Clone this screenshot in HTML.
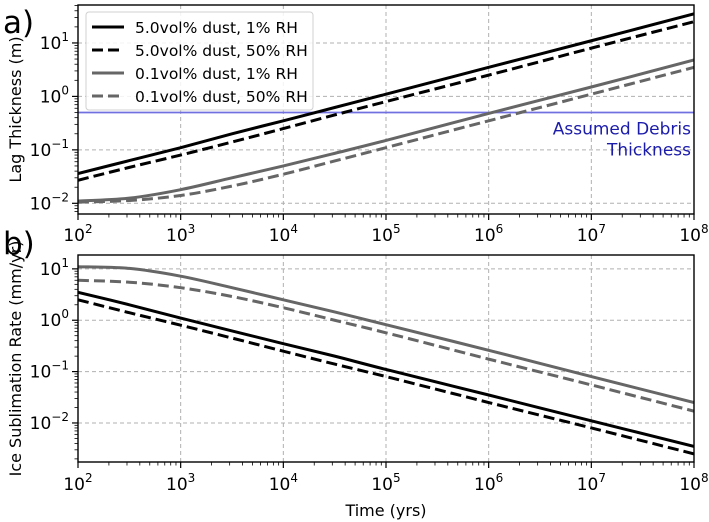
<!DOCTYPE html>
<html><head><meta charset="utf-8"><style>
body{margin:0;background:#fff;}
svg{display:block;font-family:"DejaVu Sans","Liberation Sans",sans-serif;}
</style></head><body>
<svg id="fig" width="709" height="522" viewBox="0 0 709 522"></svg>
<script>
const years = [2, 2.5, 3, 3.5, 4, 4.5, 5, 6, 7, 8];
const lag5dry = [0.036, 0.063, 0.11, 0.2, 0.35, 0.62, 1.1, 3.5, 11, 35];
const lag5wet = [0.027, 0.047, 0.08, 0.14, 0.25, 0.45, 0.8, 2.5, 8, 25];
const lag01dry = [0.011, 0.0125, 0.018, 0.03, 0.05, 0.086, 0.15, 0.48, 1.5, 4.8];
const lag01wet = [0.0105, 0.0113, 0.014, 0.021, 0.035, 0.062, 0.11, 0.35, 1.1, 3.5];
const sub5dry = [3.5, 2.0, 1.1, 0.62, 0.35, 0.2, 0.11, 0.035, 0.011, 0.0035];
const sub5wet = [2.5, 1.4, 0.8, 0.45, 0.25, 0.14, 0.08, 0.025, 0.008, 0.0025];
const sub01dry = [11, 10.2, 7.2, 4.3, 2.5, 1.45, 0.82, 0.26, 0.08, 0.025];
const sub01wet = [6, 5.5, 4.3, 2.9, 1.75, 1.0, 0.57, 0.175, 0.055, 0.017];
const debrisThickness = 0.5;
const xTickExp = [2, 3, 4, 5, 6, 7, 8];
const yTickExp = [-2, -1, 0, 1];
const legendLabels = ["5.0vol% dust, 1% RH", "5.0vol% dust, 50% RH", "0.1vol% dust, 1% RH", "0.1vol% dust, 50% RH"];

const NS = "http://www.w3.org/2000/svg";
const svg = document.getElementById('fig');
function el(tag, attrs, parent, text){
  const e = document.createElementNS(NS, tag);
  for (const k in attrs) e.setAttribute(k, attrs[k]);
  if (text !== undefined) e.textContent = text;
  (parent || svg).appendChild(e);
  return e;
}
const X0 = 78, X1 = 694;
function xs(e){ return X0 + (e - 2) / 6 * (X1 - X0); }
function makeY(top, bot, lmax, lmin){ return v => top + (lmax - Math.log10(v)) / (lmax - lmin) * (bot - top); }

const panels = [
  {name:'lag-thickness-panel', top:5, bot:214, lmax:1.71, lmin:-2.2, series:[lag5dry, lag5wet, lag01dry, lag01wet], ylabel:'Lag Thickness (m)', letter:'a)', ly:33, xtickY:241},
  {name:'sublimation-panel', top:255, bot:462, lmax:1.27, lmin:-2.76, series:[sub5dry, sub5wet, sub01dry, sub01wet], ylabel:'Ice Sublimation Rate (mm/yr)', letter:'b)', ly:254, xtickY:490}
];
const styles = [
  {c:'#000', d:''}, {c:'#000', d:'11,5'}, {c:'#666', d:''}, {c:'#666', d:'11,5'}
];
const seriesNames = ['series-5pct-1rh','series-5pct-50rh','series-01pct-1rh','series-01pct-50rh'];

function smoothPath(pts){
  let d = `M${pts[0][0]},${pts[0][1]}`;
  for (let i = 0; i < pts.length - 1; i++){
    const p0 = pts[Math.max(0,i-1)], p1 = pts[i], p2 = pts[i+1], p3 = pts[Math.min(pts.length-1,i+2)];
    const c1 = [p1[0] + (p2[0]-p0[0])/6, p1[1] + (p2[1]-p0[1])/6];
    const c2 = [p2[0] - (p3[0]-p1[0])/6, p2[1] - (p3[1]-p1[1])/6];
    d += ` C${c1[0]},${c1[1]} ${c2[0]},${c2[1]} ${p2[0]},${p2[1]}`;
  }
  return d;
}

panels.forEach(p => {
  const ys = makeY(p.top, p.bot, p.lmax, p.lmin);
  const g = el('g', {});
  
  
  xTickExp.forEach(e => {
    const ln = el('line', {x1:xs(e), x2:xs(e), y1:p.top, y2:p.bot, stroke:'#b0b0b0', 'stroke-width':1, 'stroke-dasharray':'4,3'}, g);
    
    
  });
  yTickExp.forEach(e => {
    const y = ys(Math.pow(10, e));
    const ln = el('line', {x1:X0, x2:X1, y1:y, y2:y, stroke:'#b0b0b0', 'stroke-width':1, 'stroke-dasharray':'4,3'}, g);
    
    
  });
  for (let e = 2; e <= 8; e++){
    const x = xs(e);
    const t = el('line', {x1:x, x2:x, y1:p.bot, y2:p.bot+6, stroke:'#000', 'stroke-width':1.2}, g);
    
    
    const lab = el('text', {x:x, y:p.xtickY, 'text-anchor':'middle', 'font-size':17}, g);
    
    
    lab.innerHTML = `10<tspan dy="-8" font-size="12">${e}</tspan>`;
    if (e < 8) for (let m = 2; m <= 9; m++){
      const xm = xs(e + Math.log10(m));
      const mt = el('line', {x1:xm, x2:xm, y1:p.bot, y2:p.bot+3.5, stroke:'#000', 'stroke-width':0.8}, g);
      
      
    }
  }
  for (let e = Math.floor(p.lmin); e <= Math.ceil(p.lmax); e++){
    for (let m = 1; m <= 9; m++){
      const lv = e + Math.log10(m);
      if (lv < p.lmin || lv > p.lmax) continue;
      const y = ys(Math.pow(10, lv));
      const len = m === 1 ? 6 : 3.5;
      const t = el('line', {x1:X0-len, x2:X0, y1:y, y2:y, stroke:'#000', 'stroke-width':m===1?1.2:0.8}, g);
      
      
    }
  }
  yTickExp.forEach(e => {
    const y = ys(Math.pow(10, e));
    const lab = el('text', {x:X0-9, y:y+6, 'text-anchor':'end', 'font-size':17}, g);
    
    
    lab.innerHTML = `10<tspan dy="-8" font-size="12">${e < 0 ? '\u2212' + (-e) : e}</tspan>`;
  });
  const cid = 'clip-' + p.name;
  const cp = el('clipPath', {id:cid}, g);
  el('rect', {x:X0, y:p.top, width:X1-X0, height:p.bot-p.top}, cp);
  if (p.name === 'lag-thickness-panel'){
    const y = ys(debrisThickness);
    const bl = el('line', {x1:X0, x2:X1, y1:y, y2:y, stroke:'#7070e0', 'stroke-width':1.8}, g);
    
    
    const t1 = el('text', {x:691, y:y+22, 'text-anchor':'end', 'font-size':17, fill:'#1c1cab'}, g, 'Assumed Debris');
    
    
    const t2 = el('text', {x:691, y:y+43, 'text-anchor':'end', 'font-size':17, fill:'#1c1cab'}, g, 'Thickness');
    
    
  }
  p.series.forEach((s, i) => {
    const pts = s.map((v, k) => [xs(years[k]), ys(v)]);
    const path = el('path', {d:smoothPath(pts), fill:'none', stroke:styles[i].c, 'stroke-width':3, 'stroke-dasharray':styles[i].d, 'clip-path':`url(#${cid})`}, g);
    
    
  });
  const frame = el('rect', {x:X0, y:p.top, width:X1-X0, height:p.bot-p.top, fill:'none', stroke:'#000', 'stroke-width':1.4}, g);
  
  
  const yl = el('text', {x:0, y:0, transform:`translate(21,${(p.top+p.bot)/2}) rotate(-90)`, 'text-anchor':'middle', 'font-size':16}, g, p.ylabel);
  
  
  const pl = el('text', {x:3, y:p.ly, 'font-size':31}, g, p.letter);
  
  
});

const lg = el('g', {});


el('rect', {x:86, y:12, width:227, height:98, rx:3, fill:'#fff', 'fill-opacity':0.85, stroke:'#d0d0d0', 'stroke-width':1}, lg);
legendLabels.forEach((lab, i) => {
  const y = 27 + i * 23;
  const ln = el('line', {x1:92, x2:124, y1:y, y2:y, stroke:styles[i].c, 'stroke-width':3, 'stroke-dasharray':styles[i].d}, lg);
  
  
  const t = el('text', {x:135, y:y+6, 'font-size':15.5}, lg, lab);
  
  
});
const xt = el('text', {x:386, y:516, 'text-anchor':'middle', 'font-size':16}, svg, 'Time (yrs)');


</script>
</body></html>
